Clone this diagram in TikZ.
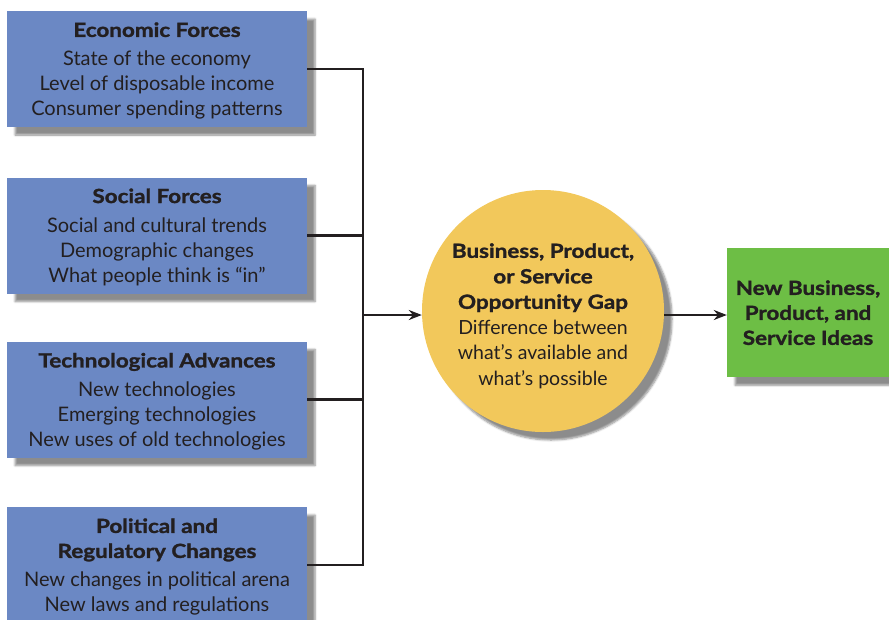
\documentclass[tikz,border=0pt]{standalone}
\usepackage{fontspec}
\setmainfont{Lato}[BoldFeatures={FakeStretch=1.15,FakeBold=1.5}]
\usetikzlibrary{arrows.meta,shadows.blur}
\definecolor{boxblue}{HTML}{6B88C4}
\definecolor{gapyellow}{HTML}{F2C85B}
\definecolor{ideagreen}{HTML}{6DBE45}
\definecolor{txt}{HTML}{231F20}
\newcommand{\boxtitle}[1]{{\fontsize{19.5}{26}\selectfont\bfseries #1}}
\begin{document}
\begin{tikzpicture}[x=1pt,y=-1pt,
  shade/.style={blur shadow={shadow xshift=8pt,shadow yshift=-8pt,shadow blur steps=6,shadow opacity=45}},
  force/.style={rectangle,fill=boxblue,minimum width=300pt,minimum height=116pt,inner sep=0pt,shade},
  forcetext/.style={inner sep=0pt,align=center,text=txt,font=\fontsize{20}{25}\selectfont},
  gap/.style={circle,fill=gapyellow,minimum size=242pt,inner sep=0pt,shade},
  gaptext/.style={inner sep=0pt,align=center,text=txt,font=\fontsize{19.5}{25.5}\selectfont},
  idea/.style={rectangle,fill=ideagreen,minimum width=162pt,minimum height=129pt,inner sep=0pt,
    align=center,text=txt,font=\fontsize{19.5}{25}\selectfont\bfseries,shade},
  link/.style={draw=txt,line width=2.8pt},
  arr/.style={link,-{Stealth[length=13pt,width=10pt]}}]
\useasboundingbox (0,0) rectangle (889,619);
\node[force] (b1) at (157,69) {};
\node[force] (b2) at (157,235.5) {};
\node[force] (b3) at (157,399.5) {};
\node[force] (b4) at (157,565) {};
\node[forcetext] (t1) at ([yshift=-2pt]b1.center) {\boxtitle{Economic Forces}\\[4pt]State of the economy\\Level of disposable income\\Consumer spending patterns};
\node[forcetext] (t2) at ([yshift=-1.5pt]b2.center) {\boxtitle{Social Forces}\\[4pt]Social and cultural trends\\Demographic changes\\What people think is “in”};
\node[forcetext] (t3) at ([yshift=-2pt]b3.center) {\boxtitle{Technological Advances}\\[4pt]New technologies\\Emerging technologies\\New uses of old technologies};
\node[forcetext] (t4) at ([yshift=-2pt]b4.center) {\boxtitle{Political and}\\\boxtitle{Regulatory Changes}\\[4pt]New changes in political arena\\New laws and regulations};
\node[gap] (g) at (543,311) {};
\node[gaptext] (gt) at ([yshift=-5pt]g.center) {\textbf{Business, Product,}\\\textbf{or Service}\\\textbf{Opportunity Gap}\\Difference between\\what’s available and\\what’s possible};
\node[idea] (n) at (808,312.7) {New Business,\\Product, and\\Service Ideas};
\coordinate (bus) at (363,0);
\draw[link] (b1.east) -- (b1.east -| bus) -- (b4.east -| bus) -- (b4.east);
\draw[link] (b2.east) -- (b2.east -| bus);
\draw[link] (b3.east) -- (b3.east -| bus);
\draw[arr] ([yshift=-4pt]g.west -| bus) -- ([yshift=-4pt]g.west);
\draw[arr] ([yshift=-4pt]g.east) -- ([yshift=-4pt]g.east -| n.west);
\end{tikzpicture}
\end{document}
